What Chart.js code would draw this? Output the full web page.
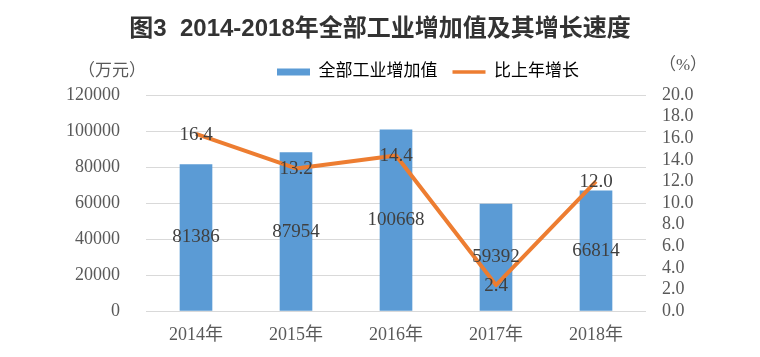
<!DOCTYPE html>
<html><head><meta charset="utf-8">
<script src="https://cdn.jsdelivr.net/npm/chart.js@4"></script>
<style>html,body{margin:0;padding:0;background:#fff}</style>
</head><body>
<canvas id="c" width="760" height="357"></canvas>
<script>
const categories = ['2014年', '2015年', '2016年', '2017年', '2018年'];
const industryValue = [81386, 87954, 100668, 59392, 66814];
const growthRate = [16.4, 13.2, 14.4, 2.4, 12.0];
const leftTicks = [0, 20000, 40000, 60000, 80000, 100000, 120000];
const rightTicks = [0, 2, 4, 6, 8, 10, 12, 14, 16, 18, 20];
const seriesNames = ['全部工业增加值', '比上年增长'];
const titleText = '图3  2014-2018年全部工业增加值及其增长速度';
const leftUnit = '（万元）';
const rightUnit = '（%）';

const BLUE = '#5B9BD5', ORANGE = '#ED7D31';
const SERIF = "'Liberation Serif', 'Noto Sans CJK SC'";

const extrasPlugin = {
  id: 'extras',
  afterLayout(chart) {
    const lg = chart.legend;
    if (lg) { lg.left += 48; lg.right += 48; lg.top -= 4.5; lg.bottom -= 4.5; }
  },
  afterDatasetsDraw(chart) {
    const ctx = chart.ctx;
    ctx.save();
    ctx.font = "19px " + SERIF;
    ctx.fillStyle = '#404040';
    ctx.textAlign = 'center';
    ctx.textBaseline = 'middle';
    chart.getDatasetMeta(1).data.forEach((el, i) => {
      ctx.fillText(String(industryValue[i]), el.x, (el.y + el.base) / 2);
    });
    chart.getDatasetMeta(0).data.forEach((el, i) => {
      ctx.fillText(growthRate[i].toFixed(1), el.x, el.y + 1);
    });
    ctx.restore();
  },
  afterDraw(chart) {
    const ctx = chart.ctx;
    ctx.save();
    ctx.font = "17px " + SERIF;
    ctx.fillStyle = '#595959';
    ctx.textAlign = 'center';
    ctx.textBaseline = 'middle';
    ctx.fillText(leftUnit, chart.scales.y.left + 112, 72);
    ctx.fillText(rightUnit, chart.scales.y1.left + 37, 66);
    ctx.restore();
  }
};

new Chart(document.getElementById('c'), {
  data: {
    labels: categories,
    datasets: [
      {
        type: 'line', label: seriesNames[1], data: growthRate, yAxisID: 'y1',
        borderColor: ORANGE, backgroundColor: ORANGE, borderWidth: 4,
        pointRadius: 0, tension: 0, borderJoinStyle: 'round', order: 0
      },
      {
        type: 'bar', label: seriesNames[0], data: industryValue, yAxisID: 'y',
        backgroundColor: BLUE, borderWidth: 0, barThickness: 32, order: 1
      }
    ]
  },
  options: {
    responsive: false,
    animation: false,
    devicePixelRatio: 1,
    layout: { padding: { left: 0, right: 0, top: 0, bottom: 11.4 } },
    plugins: {
      tooltip: { enabled: false },
      title: {
        display: true, text: titleText, color: '#333333',
        font: { family: "'Liberation Sans', 'Noto Sans CJK SC'", size: 24, weight: 'bold' },
        padding: { top: 15, bottom: 9.2 }
      },
      legend: {
        display: true, position: 'top',
        labels: {
          usePointStyle: true, pointStyleWidth: 33, boxHeight: 7, padding: 15,
          color: '#595959', font: { family: SERIF, size: 17 },
          generateLabels() {
            return [
              { text: seriesNames[0], fillStyle: BLUE, strokeStyle: BLUE, lineWidth: 0, pointStyle: 'rect', datasetIndex: 1, hidden: false },
              { text: seriesNames[1], fillStyle: ORANGE, strokeStyle: ORANGE, lineWidth: 3.5, pointStyle: 'line', datasetIndex: 0, hidden: false }
            ];
          }
        }
      }
    },
    scales: {
      x: {
        grid: { display: false, drawTicks: false },
        border: { display: false },
        afterFit(s) { s.height = 34.6; },
        ticks: { color: '#595959', font: { family: SERIF, size: 18 }, padding: 13, autoSkip: false, maxRotation: 0 }
      },
      y: {
        position: 'left',
        min: leftTicks[0], max: leftTicks[leftTicks.length - 1],
        afterBuildTicks(s) { s.ticks = leftTicks.map(v => ({ value: v })); },
        afterFit(s) { s.width = 146; },
        grid: { color: '#D9D9D9', lineWidth: 1, drawTicks: false },
        border: { display: false },
        ticks: { color: '#595959', font: { family: SERIF, size: 18 }, padding: 26, autoSkip: false, callback: v => String(v) }
      },
      y1: {
        position: 'right',
        min: rightTicks[0], max: rightTicks[rightTicks.length - 1],
        afterBuildTicks(s) { s.ticks = rightTicks.map(v => ({ value: v })); },
        afterFit(s) { s.width = 114; },
        grid: { display: false, drawTicks: false },
        border: { display: false },
        ticks: { color: '#595959', font: { family: SERIF, size: 18 }, padding: 16, autoSkip: false, callback: v => Number(v).toFixed(1) }
      }
    }
  },
  plugins: [extrasPlugin]
});
</script>
</body></html>
